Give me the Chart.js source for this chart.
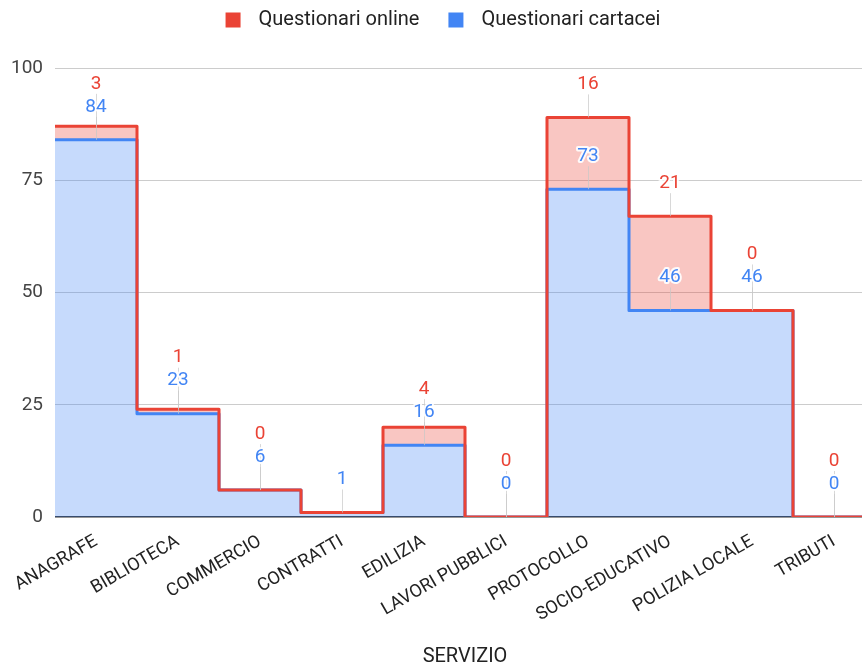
<!DOCTYPE html>
<html lang="it">
<head>
<meta charset="utf-8">
<title>Questionari per servizio</title>
<script src="https://cdn.jsdelivr.net/npm/chart.js@4/dist/chart.umd.min.js"></script>
<style>
  html, body { margin: 0; padding: 0; background: #fff; overflow: hidden; }
  #wrap { width: 886px; height: 668px; position: relative; }
</style>
</head>
<body>
<div id="wrap"><canvas id="chart"></canvas></div>
<script>
// Servizi e numero di questionari raccolti
const categories = ['ANAGRAFE', 'BIBLIOTECA', 'COMMERCIO', 'CONTRATTI', 'EDILIZIA',
  'LAVORI PUBBLICI', 'PROTOCOLLO', 'SOCIO-EDUCATIVO', 'POLIZIA LOCALE', 'TRIBUTI'];
const cartacei = [84, 23, 6, 1, 16, 0, 73, 46, 46, 0];
const online = [3, 1, 0, null, 4, 0, 16, 21, 0, 0];
const yTicks = [0, 25, 50, 75, 100];
const seriesNames = ['Questionari online', 'Questionari cartacei'];

const RED = '#ea4335';
const BLUE = '#4285f4';
const FONT = 'Roboto, "Liberation Sans", Arial, sans-serif';

// each category occupies one full band [i, i+1] on a linear x scale
function stepPoints(values) {
  return values.flatMap((v, i) => [{ x: i, y: v }, { x: i + 1, y: v }]);
}
const totals = cartacei.map((v, i) => v + (online[i] ?? 0));

// legend row: coloured square, gap, name; centred on the canvas
const topLegend = {
  id: 'topLegend',
  afterDraw(chart) {
    const { ctx } = chart;
    const sq = 15, gap = 18, itemGap = 29, cy = 20;
    ctx.save();
    ctx.font = '20px ' + FONT;
    ctx.textBaseline = 'middle';
    const items = chart.data.datasets.map(ds => ({ text: ds.label, color: ds.borderColor, w: ctx.measureText(ds.label).width }));
    const total = items.reduce((s, it) => s + sq + gap + it.w, 0) + itemGap * (items.length - 1);
    let x = chart.width / 2 - total / 2;
    items.forEach(it => {
      ctx.fillStyle = it.color;
      ctx.fillRect(x, cy - sq / 2, sq, sq);
      x += sq + gap;
      ctx.fillStyle = '#222';
      ctx.fillText(it.text, x, cy);
      x += it.w + itemGap;
    });
    ctx.restore();
  }
};

// value labels with leader lines
const valueLabels = {
  id: 'valueLabels',
  afterDatasetsDraw(chart) {
    const { ctx, scales: { x, y } } = chart;
    const items = [];
    categories.forEach((c, i) => {
      const cx = x.getPixelForValue(i + 0.5);
      const bTop = y.getPixelForValue(cartacei[i]);
      const blueY = bTop - 33;
      items.push({ cx, from: bTop, ly: blueY, text: String(cartacei[i]), color: BLUE });
      if (online[i] !== null) {
        const rTop = y.getPixelForValue(totals[i]);
        const redY = Math.min(rTop - 33, blueY - 23);
        items.push({ cx, from: rTop, ly: redY, text: String(online[i]), color: RED });
      }
    });
    ctx.save();
    ctx.strokeStyle = 'rgba(200,200,200,0.7)';
    ctx.lineWidth = 1;
    items.forEach(it => {
      ctx.beginPath();
      ctx.moveTo(Math.round(it.cx) + 0.5, it.from);
      ctx.lineTo(Math.round(it.cx) + 0.5, it.ly + 10);
      ctx.stroke();
    });
    ctx.font = '19px ' + FONT;
    ctx.textAlign = 'center';
    ctx.textBaseline = 'middle';
    ctx.lineJoin = 'round';
    items.forEach(it => {
      ctx.lineWidth = 4;
      ctx.strokeStyle = 'rgba(255,255,255,0.9)';
      ctx.strokeText(it.text, it.cx, it.ly);
      ctx.fillStyle = it.color;
      ctx.fillText(it.text, it.cx, it.ly);
    });
    ctx.restore();
  }
};

new Chart(document.getElementById('chart'), {
  type: 'line',
  data: {
    datasets: [
      {
        label: seriesNames[0],
        data: stepPoints(totals),
        borderColor: RED,
        backgroundColor: 'rgba(234,67,53,0.3)',
        borderWidth: 3,
        fill: 1,
        pointRadius: 0,
        borderJoinStyle: 'round',
        borderCapStyle: 'round',
        tension: 0
      },
      {
        label: seriesNames[1],
        data: stepPoints(cartacei),
        borderColor: BLUE,
        backgroundColor: 'rgba(66,133,244,0.3)',
        borderWidth: 3,
        fill: 'origin',
        pointRadius: 0,
        borderJoinStyle: 'round',
        borderCapStyle: 'round',
        tension: 0
      }
    ]
  },
  options: {
    responsive: true,
    maintainAspectRatio: false,
    animation: false,
    layout: { padding: { top: 68, right: 11, bottom: 0, left: 0 } },
    plugins: {
      filler: { drawTime: 'beforeDatasetsDraw' },
      tooltip: { enabled: false },
      legend: { display: false }
    },
    scales: {
      x: {
        type: 'linear',
        min: 0,
        max: categories.length,
        afterBuildTicks(scale) {
          scale.ticks = categories.map((_, i) => ({ value: i + 0.5 }));
        },
        afterFit(scale) { scale.height = 151; },
        grid: { display: false },
        border: { display: false },
        ticks: {
          autoSkip: false,
          minRotation: 30,
          maxRotation: 30,
          padding: 6,
          color: '#222',
          font: { family: FONT, size: 18 },
          callback: (value, index) => categories[index]
        },
        title: {
          display: true,
          text: 'SERVIZIO',
          color: '#222',
          font: { family: FONT, size: 20, lineHeight: 1.1 },
          padding: { top: 0, bottom: 0 }
        }
      },
      y: {
        min: 0,
        max: 100,
        afterBuildTicks(scale) {
          scale.ticks = yTicks.map(v => ({ value: v }));
        },
        afterFit(scale) { scale.width = 55; },
        grid: {
          drawTicks: false,
          color: ctx => (ctx.tick && ctx.tick.value === 0 ? '#333' : '#ccc'),
          lineWidth: ctx => (ctx.tick && ctx.tick.value === 0 ? 1.5 : 1)
        },
        border: { display: false },
        ticks: {
          padding: 12,
          color: '#444',
          font: { family: FONT, size: 19 }
        }
      }
    }
  },
  plugins: [valueLabels, topLegend]
});
</script>
</body>
</html>
